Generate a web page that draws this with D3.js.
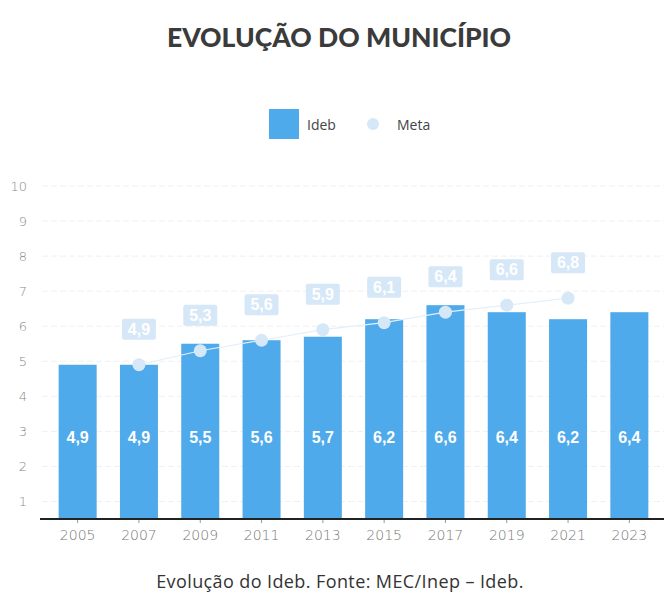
<!DOCTYPE html>
<html>
<head>
<meta charset="utf-8">
<script src="https://cdn.jsdelivr.net/npm/d3@7"></script>
<style>
  body { margin: 0; background: #fff; }
  svg { font-family: "Lato", "Open Sans", sans-serif; }
</style>
</head>
<body>
<div id="chart"></div>
<script>
const years = ["2005", "2007", "2009", "2011", "2013", "2015", "2017", "2019", "2021", "2023"];
const ideb = [4.9, 4.9, 5.5, 5.6, 5.7, 6.2, 6.6, 6.4, 6.2, 6.4];
const meta = [null, 4.9, 5.3, 5.6, 5.9, 6.1, 6.4, 6.6, 6.8, null];
const yTicks = [1, 2, 3, 4, 5, 6, 7, 8, 9, 10];

const W = 664, H = 596;
const barColor = "#4eaaea";
const metaColor = "#d6e8f8";
const fmt = v => String(v.toFixed(1)).replace(".", ",");

const svg = d3.select("#chart").append("svg")
    .attr("width", W).attr("height", H);

// title
svg.append("text")
    .attr("x", 339).attr("y", 47)
    .attr("text-anchor", "middle")
    .style("font-size", "26.5px").style("font-weight", "900")
    .style("fill", "#3b3b3b")
    .text("EVOLUÇÃO DO MUNICÍPIO");

// legend
svg.append("rect").attr("x", 269).attr("y", 109).attr("width", 30).attr("height", 30).attr("fill", barColor);
svg.append("text").attr("x", 307).attr("y", 130).style("font-size", "14px").style("fill", "#444")
    .style("font-family", "Open Sans, sans-serif").text("Ideb");
svg.append("circle").attr("cx", 373).attr("cy", 124).attr("r", 6).attr("fill", metaColor);
svg.append("text").attr("x", 397).attr("y", 130).style("font-size", "14px").style("fill", "#444")
    .style("font-family", "Open Sans, sans-serif").text("Meta");

const x = d3.scaleBand().domain(years).range([47, 660]).paddingInner(0.38).paddingOuter(0.19);
const y = d3.scaleLinear().domain([0.5, 10]).range([519, 186]);

// grid
svg.append("g").selectAll("line").data(yTicks).join("line")
    .attr("x1", 42).attr("x2", 664)
    .attr("y1", d => y(d)).attr("y2", d => y(d))
    .attr("stroke", "#f0f0f0").attr("stroke-dasharray", "6,3");

// y labels
svg.append("g").selectAll("text").data(yTicks).join("text")
    .attr("x", 27).attr("y", d => y(d) + 5)
    .attr("text-anchor", "end")
    .style("font-size", "13px").style("fill", "#888").style("font-family", "DejaVu Sans, sans-serif")
    .style("font-weight", "300")
    .text(d => d);

const data = years.map((yr, i) => ({ year: yr, ideb: ideb[i], meta: meta[i] }));

// bars
svg.append("g").selectAll("rect").data(data).join("rect")
    .attr("x", d => x(d.year)).attr("width", x.bandwidth())
    .attr("y", d => y(d.ideb)).attr("height", d => y(0.5) - y(d.ideb))
    .attr("fill", barColor);

svg.append("g").selectAll("text").data(data).join("text")
    .attr("x", d => x(d.year) + x.bandwidth() / 2).attr("y", 443)
    .attr("text-anchor", "middle")
    .style("font-size", "16px").style("font-weight", "bold").style("fill", "#fff")
    .style("font-family", "Liberation Sans, Arial, sans-serif")
    .text(d => fmt(d.ideb));

// meta line and points
const metaData = data.filter(d => d.meta != null);
const cx = d => x(d.year) + x.bandwidth() / 2;
svg.append("path").datum(metaData)
    .attr("d", d3.line().x(cx).y(d => y(d.meta)))
    .attr("fill", "none").attr("stroke", "#e4eff9").attr("stroke-width", 1.2);

svg.append("g").selectAll("circle").data(metaData).join("circle")
    .attr("cx", cx).attr("cy", d => y(d.meta)).attr("r", 6.5)
    .attr("fill", metaColor);

const lab = svg.append("g").selectAll("g").data(metaData).join("g")
    .attr("transform", d => `translate(${cx(d)},${y(d.meta) - 36})`);
lab.append("rect").attr("x", -17).attr("y", -10).attr("width", 34).attr("height", 21)
    .attr("rx", 2).attr("fill", metaColor);
lab.append("text").attr("y", 6).attr("text-anchor", "middle")
    .style("font-size", "16px").style("font-weight", "bold").style("fill", "#fff")
    .style("font-family", "Liberation Sans, Arial, sans-serif")
    .text(d => fmt(d.meta));

// x axis
const xAxis = svg.append("g").attr("transform", "translate(0,519)")
    .call(d3.axisBottom(x).tickSize(4).tickSizeOuter(0));
xAxis.select(".domain").remove();
xAxis.append("line").attr("x1", 40).attr("x2", 664).attr("stroke", "#222").attr("stroke-width", 2);
xAxis.selectAll(".tick line").attr("stroke", "#999");
xAxis.selectAll(".tick text").attr("dy", "1em")
    .style("font-size", "14px").style("fill", "#777").style("font-family", "DejaVu Sans, sans-serif")
    .style("font-weight", "300");

// caption
svg.append("text")
    .attr("x", 340).attr("y", 588)
    .attr("text-anchor", "middle")
    .style("font-size", "18px").style("fill", "#333").style("letter-spacing", "0.4px")
    .style("font-family", "Open Sans, sans-serif")
    .text("Evolução do Ideb. Fonte: MEC/Inep – Ideb.");
</script>
</body>
</html>
